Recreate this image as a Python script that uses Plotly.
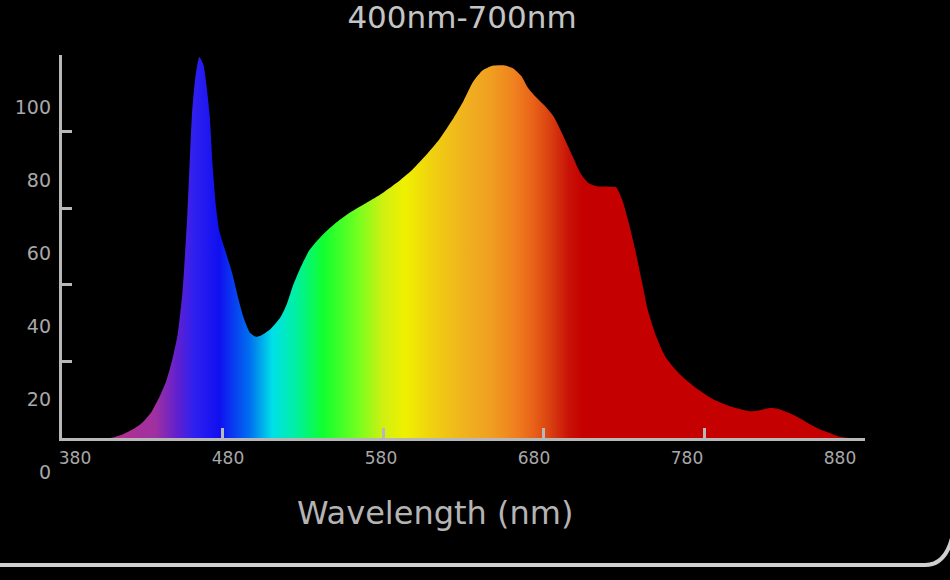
import plotly.graph_objects as go

# ---- data ----
wavelength = [380, 410, 418, 425, 430, 436, 441, 445, 449, 452, 455, 458, 461, 463, 465.5,
              468, 470, 472, 474, 476, 478, 482, 486, 490, 493, 497, 501, 505, 510, 516,
              520, 524, 528, 534, 541, 550, 558, 568, 578, 588, 598, 607, 615, 623, 630,
              636, 642, 648, 655, 661, 666, 670, 674, 680, 686, 692, 698, 703, 708, 713,
              720, 725, 729, 733, 737, 741, 745, 750, 756, 765, 775, 786, 798, 808, 814,
              820, 826, 833, 840, 846, 852, 858, 864, 870, 880]
intensity = [0, 0, 1, 2.5, 4, 7, 11, 15, 21, 27, 38, 58, 85, 94, 99.5,
             97.5, 92, 84, 70, 60, 54, 48.5, 43, 36, 31.5, 27.5, 26.4, 27, 28.5, 31.5,
             35, 40, 44, 49, 52.5, 56, 58.5, 61, 63.5, 66.5, 70, 74, 78, 83, 88,
             93, 96, 97.2, 97.3, 96.5, 94.5, 91.5, 89.5, 87, 84, 79, 73.5, 69, 66.5, 65.7,
             65.6, 65.5, 62, 56, 49, 41, 33, 26.5, 21, 16.5, 13, 10, 8, 7, 7.2,
             7.8, 7.6, 6.5, 5, 3.5, 2.2, 1.3, 0.3, 0, 0]

x_tick_vals = [380, 480, 580, 680, 780, 880]
x_tick_text = ["380", "480", "580", "680", "780", "880"]
y_tick_vals = [0, 20, 40, 60, 80, 100]
y_tick_text = ["0", "20", "40", "60", "80", "100"]

# spectrum colours along wavelength
grad_wl = [380, 416, 438, 452, 462, 478, 497, 511, 526, 542.5, 563.7, 580, 593.6,
           611, 632, 646, 662, 674, 684, 696, 705, 880]
grad_col = ["#b03090", "#b03090", "#a030a0", "#6020d0", "#3020f0", "#1010f0", "#0070f0",
            "#00e0e8", "#00f0a0", "#10ff30", "#70ff20", "#d0f010", "#f0f000", "#f0d010",
            "#f0b020", "#f0a020", "#f08020", "#e86018", "#d84010", "#c81008", "#c40000",
            "#c40000"]

title_text = "400nm-700nm"
x_title = "Wavelength (nm)"

# ---- layout geometry ----
W, H = 950, 580
ML, MR, MT, MB = 62, 85, 55, 100
PW, PH = W - ML - MR, H - MT - MB
def px(xp):
    return (xp - ML) / PW
def py(yp):
    return (H - MB - yp) / PH

FONT = "DejaVu Sans"
AX = "#b8b8b8"
LBL = "#a8a8a8"

lo, hi = x_tick_vals[0], x_tick_vals[-1]
colorscale = [[(w - lo) / (hi - lo), c] for w, c in zip(grad_wl, grad_col)]

fig = go.Figure()
# invisible carrier so the label-only axes get drawn (added first, drawn underneath)
fig.add_trace(go.Scatter(
    x=x_tick_vals, y=y_tick_vals, xaxis="x2", yaxis="y2", mode="markers",
    marker=dict(size=1, opacity=0), hoverinfo="skip", showlegend=False,
))
fig.add_trace(go.Scatter(
    x=wavelength, y=intensity, mode="lines",
    line=dict(width=0, color="rgba(0,0,0,0)", shape="spline", smoothing=0.6),
    fill="tozeroy",
    fillgradient=dict(type="horizontal", colorscale=colorscale, start=lo, stop=hi),
    hoverinfo="skip", showlegend=False,
))

fig.update_layout(
    width=W, height=H,
    margin=dict(l=ML, r=MR, t=MT, b=MB),
    paper_bgcolor="#000000", plot_bgcolor="rgba(0,0,0,0)",
    showlegend=False,
    title=dict(text=title_text, x=462 / W, xref="container", xanchor="center",
               y=1 - 17 / H, yref="container", yanchor="middle",
               font=dict(family=FONT, size=31, color="#c4c4c4")),
    xaxis=dict(range=[lo, hi], domain=[0, 1], anchor="y",
               showline=True, linecolor=AX, linewidth=3,
               ticks="inside", tickvals=x_tick_vals[1:], ticklen=10, tickwidth=2.5, tickcolor=AX,
               showticklabels=False, showgrid=False, zeroline=False),
    yaxis=dict(range=[0, 100], domain=[py(438), 1], anchor="x",
               showline=True, linecolor=AX, linewidth=3,
               ticks="inside", tickvals=y_tick_vals[1:], ticklen=10, tickwidth=2.5, tickcolor=AX,
               showticklabels=False, showgrid=False, zeroline=False),
    # label-only axes (labels in the picture are offset from the tick marks)
    xaxis2=dict(range=[lo, hi], domain=[px(75), px(840)], anchor="y",
                showline=False, ticks="", tickvals=x_tick_vals, ticktext=x_tick_text,
                tickfont=dict(family=FONT, size=17, color=LBL), ticklabelstandoff=8,
                showgrid=False, zeroline=False),
    yaxis2=dict(range=[0, 100], domain=[py(472), py(107)], anchor="x",
                showline=False, ticks="", tickvals=y_tick_vals, ticktext=y_tick_text,
                tickfont=dict(family=FONT, size=19, color=LBL), ticklabelstandoff=10,
                showgrid=False, zeroline=False),
    annotations=[dict(text=x_title, xref="paper", yref="paper", x=px(435), y=py(513),
                      xanchor="center", yanchor="middle", showarrow=False,
                      font=dict(family=FONT, size=32, color="#b4b4b4"))],
    shapes=[dict(type="path", xref="paper", yref="paper",
                 path=f"M {px(-5)},{py(565)} L {px(925)},{py(565)} Q {px(945)},{py(565)} {px(952)},{py(538)}",
                 line=dict(color="#d0d0d0", width=4))],
)

fig.write_html("out.html")
